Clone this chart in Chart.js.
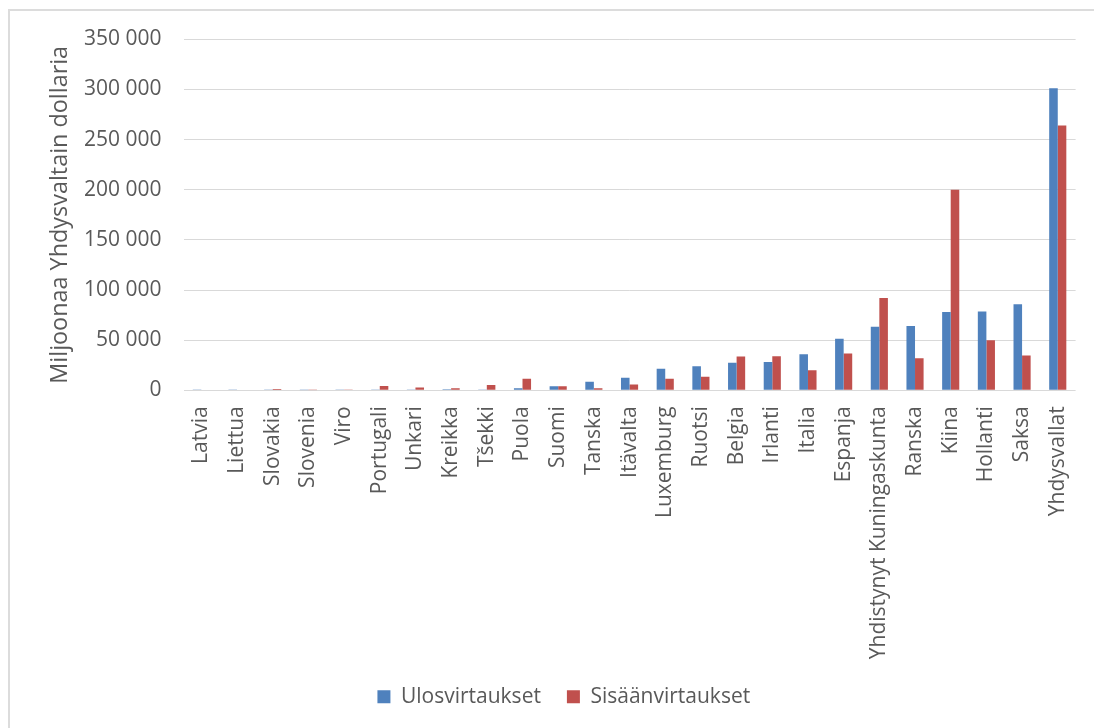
<!DOCTYPE html>
<html>
<head>
<meta charset="utf-8">
<script src="https://cdn.jsdelivr.net/npm/chart.js@4/dist/chart.umd.min.js"></script>
<style>
  html, body { margin: 0; padding: 0; background: #ffffff; overflow: hidden; }
  #wrap { position: relative; width: 1094px; height: 728px; }
  #frame { position: absolute; left: 8px; top: 9px; width: 1100px; height: 740px;
           border: 2px solid #dcdcdc; box-sizing: border-box; pointer-events: none; }
  canvas { position: absolute; left: 0; top: 0; }
</style>
</head>
<body>
<div id="wrap">
  <div id="frame"></div>
  <canvas id="c" width="1094" height="728"></canvas>
</div>
<script>
// Suorat sijoitukset maittain, miljoonaa USD
const countries = [
  'Latvia', 'Liettua', 'Slovakia', 'Slovenia', 'Viro', 'Portugali', 'Unkari',
  'Kreikka', 'Tšekki', 'Puola', 'Suomi', 'Tanska', 'Itävalta', 'Luxemburg',
  'Ruotsi', 'Belgia', 'Irlanti', 'Italia', 'Espanja', 'Yhdistynyt Kuningaskunta',
  'Ranska', 'Kiina', 'Hollanti', 'Saksa', 'Yhdysvallat'
];
const outflows = [
  200, 200, 300, 100, 200, 300, 400,
  1000, 700, 2000, 4000, 8500, 12500, 21600,
  24000, 27400, 28300, 36000, 51300, 63300,
  64000, 78000, 78700, 85700, 301300
];
const inflows = [
  500, 500, 1300, 100, 400, 4300, 2700,
  2000, 5400, 11500, 4000, 2000, 5700, 11500,
  13500, 33800, 34000, 20000, 36700, 92000,
  32000, 200000, 50000, 34700, 264000
];
const seriesNames = ['Ulosvirtaukset', 'Sisäänvirtaukset'];
const yTicks = [0, 50000, 100000, 150000, 200000, 250000, 300000, 350000];
const axisTitle = 'Miljoonaa Yhdysvaltain dollaria';

const FONT = "'Open Sans', 'DejaVu Sans', sans-serif";
const TEXT = '#595959';
const GRID = '#d9d9d9';

const fmt = v => String(v).replace(/\B(?=(\d{3})+(?!\d))/g, ' ');

// shift the legend row horizontally under the plot
const legendShift = {
  id: 'legendShift',
  afterLayout(chart) {
    const dx = 26;
    chart.legend.left += dx;
    chart.legend.right += dx;
  }
};

new Chart(document.getElementById('c'), {
  type: 'bar',
  data: {
    labels: countries,
    datasets: [
      { label: seriesNames[0], data: outflows, backgroundColor: '#4f81bd', borderWidth: 0 },
      { label: seriesNames[1], data: inflows, backgroundColor: '#c0504d', borderWidth: 0 }
    ]
  },
  options: {
    responsive: false,
    animation: false,
    devicePixelRatio: 1,
    layout: { padding: { left: 0, right: 18.4, top: 39.3, bottom: 10.7 } },
    datasets: { bar: { categoryPercentage: 0.48, barPercentage: 1.0 } },
    plugins: {
      legend: {
        position: 'bottom',
        labels: {
          boxWidth: 13, boxHeight: 13, padding: 26,
          color: TEXT, font: { family: FONT, size: 21 }
        }
      },
      tooltip: { enabled: false }
    },
    scales: {
      x: {
        grid: { display: false, drawTicks: false },
        border: { display: false },
        ticks: {
          autoSkip: false, minRotation: 90, maxRotation: 90, padding: 16,
          color: TEXT, font: { family: FONT, size: 21 }
        },
        afterFit(scale) {
          scale.height = 270;
          scale.paddingLeft = 0;
          scale.paddingRight = 0;
        }
      },
      y: {
        min: 0, max: 350000,
        afterBuildTicks(scale) { scale.ticks = yTicks.map(v => ({ value: v })); },
        grid: { color: GRID, lineWidth: 1, drawTicks: false },
        border: { display: false },
        ticks: {
          padding: 22, color: TEXT, font: { family: FONT, size: 21 },
          callback: v => fmt(v)
        },
        title: {
          display: true, text: axisTitle, color: TEXT,
          font: { family: FONT, size: 23.4 }, padding: { top: 46, bottom: 0 }
        },
        afterFit(scale) {
          scale.width = 183.5;
          scale.paddingTop = 0;
          scale.paddingBottom = 0;
        }
      }
    }
  },
  plugins: [legendShift]
});
</script>
</body>
</html>
